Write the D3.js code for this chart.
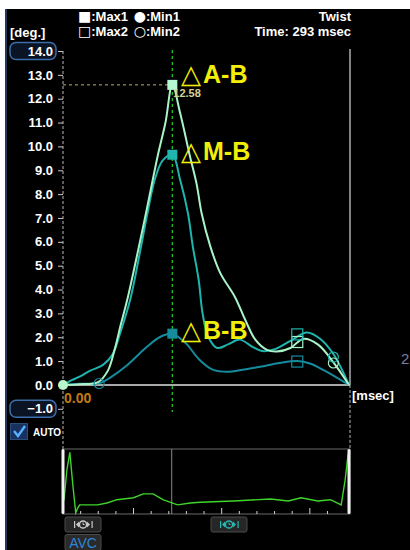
<!DOCTYPE html>
<html>
<head>
<meta charset="utf-8">
<script src="https://cdn.jsdelivr.net/npm/d3@7"></script>
<style>
  html, body { margin: 0; padding: 0; background: #ffffff; }
  svg { display: block; }
  text { font-family: "Liberation Sans", Arial, sans-serif; }
</style>
</head>
<body>
<div id="chart"></div>
<script>
// ---- data ----------------------------------------------------------
const totalTime = 293;           // msec
const peakTime = 112;            // msec, time of Max1
const yTicks = [-1, 0, 1, 2, 3, 4, 5, 6, 7, 8, 9, 10, 11, 12, 13, 14];

// Twist curves: [time (msec), degrees]
const apexBase = [[0,0],[17,0.03],[36,0.12],[46,0.6],[53,1.5],[59,2.5],[66,3.6],[77,5.65],[87,7.6],[97,9.6],[105,11.0],[112,12.58],[120,11.4],[130,9.6],[137,8.4],[142,7.2],[151,5.8],[161,4.7],[176,3.7],[187,2.7],[197,1.9],[209,1.47],[219,1.4],[233,1.55],[246,1.93],[261,1.7],[277,0.95],[293,0]];
const midBase = [[0,0],[9,0.2],[17,0.35],[28,0.6],[41,0.84],[51,1.3],[58,2.1],[69,3.6],[79,5.6],[87,7.3],[94,8.6],[102,9.4],[112,9.65],[120,8.6],[128,7.2],[133,5.8],[139,4.4],[143,3.0],[149,2.0],[158,1.55],[169,1.7],[181,1.9],[194,1.6],[204,1.42],[217,1.5],[233,1.85],[250,2.2],[263,1.95],[277,1.3],[293,0]];
const baseBase = [[0,0],[17,0.05],[38,0.08],[48,0.3],[66,0.84],[86,1.6],[99,2.0],[112,2.15],[120,1.95],[127,1.7],[140,1.05],[154,0.63],[168,0.55],[186,0.65],[202,0.76],[222,0.92],[240,1.0],[253,0.9],[268,0.6],[293,0]];

const seriesNames = ["A-B", "M-B", "B-B"];
const seriesColors = ["#a8f4c8", "#1fb4ae", "#148c9e"];
const max1Values = [12.58, 9.65, 2.15];           // at peakTime
const max2Points = [[240, 1.8], [240, 2.12], [240, 0.98]];
const min2Points = [[277, 0.92], [277, 1.17], [37, 0.06]];

// ECG trace: [time (msec), relative amplitude]
const ecg = [[0,0.2],[1,0.22],[4,0.68],[7,0.95],[10,0.45],[13,0.02],[15,0.09],[17,0.14],[35,0.14],[45,0.17],[55,0.22],[72,0.25],[82,0.31],[92,0.31],[102,0.22],[117,0.14],[130,0.17],[140,0.18],[174,0.2],[212,0.23],[230,0.2],[243,0.25],[260,0.2],[273,0.22],[284,0.14],[288,0.52],[291,0.91],[293,0.95]];
const ecgTicks = [18, 36, 54, 72, 90, 108, 126, 144, 162, 180, 198, 216, 234, 252, 270];

// ---- layout --------------------------------------------------------
const W = 410, H = 550;
const svg = d3.select("#chart").append("svg").attr("width", W).attr("height", H);

const x = d3.scaleLinear().domain([0, totalTime]).range([63, 349]);
const y = d3.scaleLinear().domain([-1, 14]).range([408.8, 51]);

// panel background
svg.append("rect").attr("x", 5).attr("y", 9).attr("width", W - 5).attr("height", H - 9).attr("fill", "#000");
svg.append("rect").attr("x", 5).attr("y", 9).attr("width", 2).attr("height", H - 9).attr("fill", "#24395a");

// header
const hdr = svg.append("g").attr("fill", "#fff").attr("font-weight", "bold").attr("font-size", 13);
hdr.append("text").attr("x", 10).attr("y", 37).text("[deg.]");
function legendLine(yy, parts) {
  const t = hdr.append("text").attr("x", 78).attr("y", yy);
  parts.forEach(([s, glyph]) => {
    const sp = t.append("tspan").text(s);
    if (glyph) sp.attr("font-family", "DejaVu Sans").attr("font-size", 14).attr("dx", glyph === 2 ? 2 : 0);
  });
}
legendLine(21, [["■", 1], [":Max1 "], ["●", 2], [":Min1"]]);
legendLine(36, [["□", 1], [":Max2 "], ["○", 2], [":Min2"]]);
hdr.append("text").attr("x", 351).attr("y", 21).attr("text-anchor", "end").text("Twist");
hdr.append("text").attr("x", 351).attr("y", 36).attr("text-anchor", "end").text("Time: " + totalTime + " msec");

// side number partly outside
svg.append("text").attr("x", 401).attr("y", 364).attr("fill", "#7c7ca2").attr("font-size", 15).text("2");

// y axis
const yAxis = d3.axisLeft(y).tickValues(yTicks).tickSize(5).tickFormat(d3.format(".1f"));
const gy = svg.append("g").attr("transform", "translate(63,0)").call(yAxis);
gy.select(".domain").remove();
gy.selectAll(".tick line").attr("stroke", "#c8c8c8");
gy.selectAll(".tick text").attr("fill", "#fff").attr("font-weight", "bold").attr("font-size", 13)
  .attr("font-family", "Liberation Sans, Arial, sans-serif").attr("x", -10);

// framed end ticks
[14, -1].forEach(v => {
  gy.insert("rect", ":first-child")
    .attr("x", -53).attr("y", y(v) - 8.5).attr("width", 46).attr("height", 17).attr("rx", 6)
    .attr("fill", "#0b1424").attr("stroke", "#3d6ea8").attr("stroke-width", 1.5);
});

// dashed axis lines
svg.append("line").attr("x1", 63).attr("x2", 63).attr("y1", y(14)).attr("y2", 449)
  .attr("stroke", "#b8b8b8").attr("stroke-dasharray", "3,2");
svg.append("line").attr("x1", 350).attr("x2", 350).attr("y1", 49).attr("y2", y(0))
  .attr("stroke", "#d8d8d8").attr("stroke-width", 1.2);
svg.append("line").attr("x1", 350).attr("x2", 350).attr("y1", y(0)).attr("y2", 449)
  .attr("stroke", "#b8b8b8").attr("stroke-dasharray", "3,2");
svg.append("line").attr("x1", 63).attr("x2", 350).attr("y1", y(0)).attr("y2", y(0))
  .attr("stroke", "#e0e0e0").attr("stroke-width", 1.5);

svg.append("text").attr("x", 352).attr("y", 400).attr("fill", "#fff").attr("font-weight", "bold")
  .attr("font-size", 13).text("[msec]");
svg.append("text").attr("x", 64).attr("y", 403).attr("fill", "#c47a14").attr("font-weight", "bold")
  .attr("font-size", 14).text(d3.format(".2f")(0));

// guide lines through Max1 of A-B
svg.append("line").attr("x1", 63).attr("x2", x(peakTime)).attr("y1", y(max1Values[0])).attr("y2", y(max1Values[0]))
  .attr("stroke", "#bfae66").attr("stroke-dasharray", "3,3");
svg.append("line").attr("x1", x(peakTime)).attr("x2", x(peakTime)).attr("y1", 50).attr("y2", 412)
  .attr("stroke", "#1fc21f").attr("stroke-width", 1.3).attr("stroke-dasharray", "3,3");

// curves
const line = d3.line().x(d => x(d[0])).y(d => y(d[1])).curve(d3.curveCatmullRom.alpha(0.5));
const curves = [apexBase, midBase, baseBase];
[2, 1, 0].forEach(i => {
  svg.append("path").datum(curves[i]).attr("d", line).attr("fill", "none")
    .attr("stroke", seriesColors[i]).attr("stroke-width", 2);
});

// Max2 (open squares) and Min2 (open circles)
max2Points.forEach((p, i) => {
  svg.append("rect").attr("x", x(p[0]) - 5.5).attr("y", y(p[1]) - 5.5).attr("width", 11).attr("height", 11)
    .attr("fill", "none").attr("stroke", seriesColors[i]).attr("stroke-width", 1.2);
});
min2Points.forEach((p, i) => {
  svg.append("circle").attr("cx", x(p[0])).attr("cy", y(p[1])).attr("r", 5)
    .attr("fill", "none").attr("stroke", seriesColors[i]).attr("stroke-width", 1.2);
});

// Min1 at origin
svg.append("circle").attr("cx", x(0)).attr("cy", y(0)).attr("r", 5).attr("fill", "#b8f4cc");

// Max1 filled squares
max1Values.forEach((v, i) => {
  svg.append("rect").attr("x", x(peakTime) - 5).attr("y", y(v) - 5).attr("width", 10).attr("height", 10)
    .attr("fill", i === 0 ? "#b6f6d2" : seriesColors[i]);
});

svg.append("text").attr("x", x(peakTime) + 1).attr("y", y(max1Values[0]) + 12)
  .attr("fill", "#d4d296").attr("font-size", 11).attr("font-weight", "bold")
  .text(d3.format(".2f")(max1Values[0]));

// series labels
const labelY = [y(max1Values[0]) - 1.5, y(max1Values[1]) + 5, y(max1Values[2]) + 5];
seriesNames.forEach((name, i) => {
  const t = svg.append("text").attr("x", 181).attr("y", labelY[i]).attr("fill", "#f2ee08")
    .attr("font-weight", "bold").attr("font-size", 25);
  t.append("tspan").attr("font-family", "DejaVu Sans").attr("font-weight", "normal").attr("font-size", 26).text("△");
  t.append("tspan").attr("dx", 2).text(name);
});

// AUTO checkbox
svg.append("rect").attr("x", 10.5).attr("y", 423.5).attr("width", 17).attr("height", 16)
  .attr("fill", "#17325e").attr("stroke", "#2b4c7c");
svg.append("path").attr("d", "M14,431 L18,436 L25,426").attr("fill", "none")
  .attr("stroke", "#5ab0ff").attr("stroke-width", 2.4);
svg.append("text").attr("x", 33).attr("y", 436).attr("fill", "#fff").attr("font-weight", "bold")
  .attr("font-size", 10).text("AUTO");

// ECG strip
const ex = d3.scaleLinear().domain([0, totalTime]).range([63, 350]);
const ey = d3.scaleLinear().domain([0, 1]).range([514, 449]);
svg.append("rect").attr("x", 63).attr("y", 449).attr("width", 287).attr("height", 65)
  .attr("fill", "none").attr("stroke", "#6a6a6a");
svg.append("line").attr("x1", ex(peakTime) - 1).attr("x2", ex(peakTime) - 1).attr("y1", 449).attr("y2", 514)
  .attr("stroke", "#8a8a8a");
ecgTicks.forEach((t, i) => {
  svg.append("line").attr("x1", ex(t)).attr("x2", ex(t)).attr("y1", 514).attr("y2", (i + 1) % 5 === 4 ? 508 : 511)
    .attr("stroke", "#d0d0d0");
});
svg.append("path").datum(ecg).attr("d", d3.line().x(d => ex(d[0])).y(d => ey(d[1])))
  .attr("fill", "none").attr("stroke", "#3fd42a").attr("stroke-width", 1.4);
[63, 349].forEach(px => {
  svg.append("rect").attr("x", px - 1.5).attr("y", 449).attr("width", 3).attr("height", 65)
    .attr("rx", 1.5).attr("fill", "#f2f2f2");
});

// playback buttons
function playButton(bx, col) {
  const g = svg.append("g").attr("transform", `translate(${bx},517)`);
  g.append("rect").attr("width", 36).attr("height", 15).attr("rx", 2).attr("fill", "#262626").attr("stroke", "#4a4a4a");
  g.append("rect").attr("x", 9).attr("y", 4).attr("width", 1.2).attr("height", 7).attr("fill", col);
  g.append("path").attr("d", "M14,4.5 L11,7.5 L14,10.5 Z").attr("fill", col);
  g.append("circle").attr("cx", 18).attr("cy", 7.5).attr("r", 3.6).attr("fill", "none").attr("stroke", col).attr("stroke-width", 1.5);
  g.append("path").attr("d", "M18,5.5 L18,7.5 L19.5,7.5").attr("fill", "none").attr("stroke", col).attr("stroke-width", 1);
  g.append("path").attr("d", "M22,4.5 L25,7.5 L22,10.5 Z").attr("fill", col);
  g.append("rect").attr("x", 26.5).attr("y", 4).attr("width", 1.2).attr("height", 7).attr("fill", col);
}
playButton(65, "#c8c8c8");
playButton(211, "#29b7b0");

// AVC button
svg.append("rect").attr("x", 65).attr("y", 534.5).attr("width", 36).attr("height", 16).attr("rx", 2)
  .attr("fill", "#2a2a2a").attr("stroke", "#4a4a4a");
svg.append("text").attr("x", 83).attr("y", 548).attr("text-anchor", "middle").attr("fill", "#2f86d6")
  .attr("font-size", 14).text("AVC");
</script>
</body>
</html>
